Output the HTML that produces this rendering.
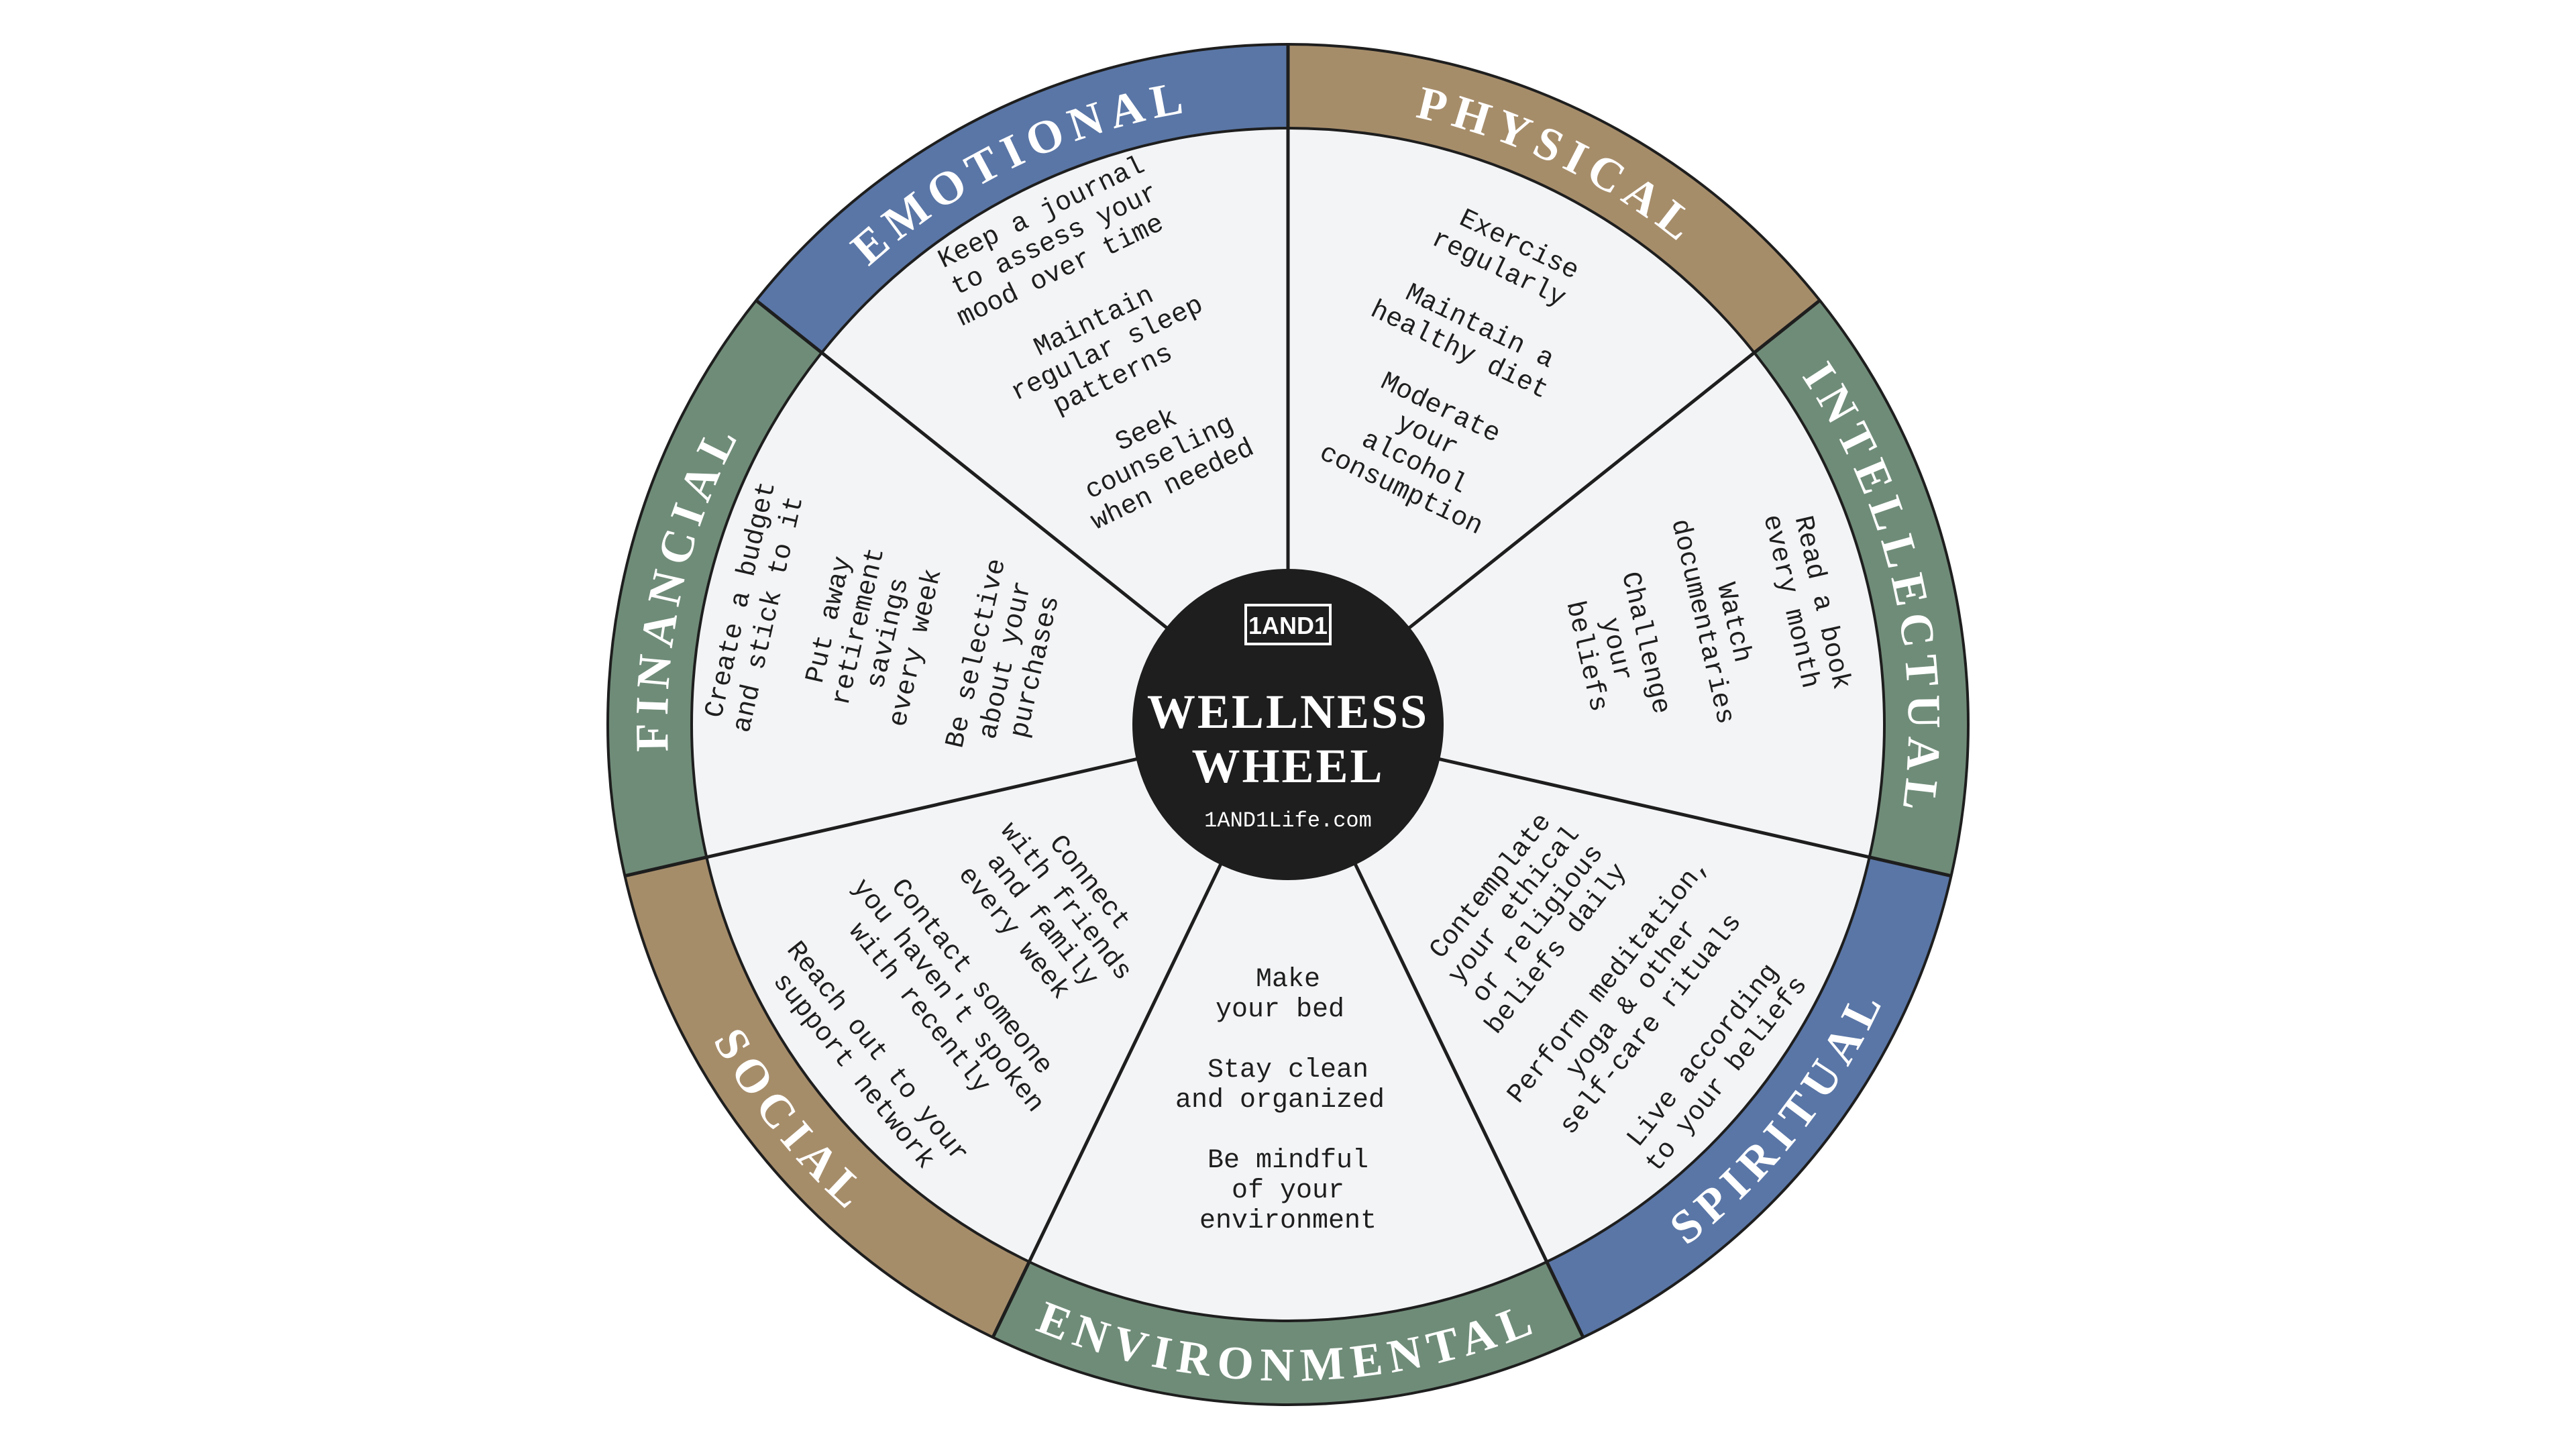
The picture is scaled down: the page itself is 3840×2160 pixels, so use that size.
<!DOCTYPE html>
<html><head><meta charset="utf-8"><style>
html,body{margin:0;padding:0;background:#fff;}
svg{display:block;}
.ring{font-family:"Liberation Serif",serif;font-weight:bold;font-size:70px;fill:#fff;letter-spacing:11px;}
.ct{font-family:"Liberation Mono",monospace;font-size:40px;fill:#1e1e1e;}
</style></head><body>
<svg width="3840" height="2160" viewBox="0 0 3840 2160" xmlns="http://www.w3.org/2000/svg">
<defs>
<path id="top" d="M1518.6,246.6 A925,925 0 0 1 2321.4,246.6"/>
<path id="bot" d="M1495.6,1961.2 A978,978 0 0 0 2344.4,1961.2"/>
</defs>
<circle cx="1920" cy="1080" r="1014" fill="#6f8c78"/>
<g stroke="none">
<path d="M1920,1080 L1480.03,166.4 A1014,1014 0 0 1 2359.97,166.4 Z" fill="#a68d6a" transform="rotate(25.714 1920 1080)"/>
<path d="M1920,1080 L1480.03,166.4 A1014,1014 0 0 1 2359.97,166.4 Z" fill="#6f8c78" transform="rotate(77.143 1920 1080)"/>
<path d="M1920,1080 L1480.03,166.4 A1014,1014 0 0 1 2359.97,166.4 Z" fill="#5a76a6" transform="rotate(128.571 1920 1080)"/>
<path d="M1920,1080 L1480.03,166.4 A1014,1014 0 0 1 2359.97,166.4 Z" fill="#6f8c78" transform="rotate(180 1920 1080)"/>
<path d="M1920,1080 L1480.03,166.4 A1014,1014 0 0 1 2359.97,166.4 Z" fill="#a68d6a" transform="rotate(231.429 1920 1080)"/>
<path d="M1920,1080 L1480.03,166.4 A1014,1014 0 0 1 2359.97,166.4 Z" fill="#6f8c78" transform="rotate(282.857 1920 1080)"/>
<path d="M1920,1080 L1480.03,166.4 A1014,1014 0 0 1 2359.97,166.4 Z" fill="#5a76a6" transform="rotate(334.286 1920 1080)"/>
</g>
<circle cx="1920" cy="1080" r="1014" fill="none" stroke="#1e1e1e" stroke-width="4"/>
<circle cx="1920" cy="1080" r="889" fill="#f3f4f6" stroke="#1e1e1e" stroke-width="4"/>
<g stroke="#1e1e1e" stroke-width="5">
<line x1="1920" y1="1080" x2="1920" y2="66" transform="rotate(0 1920 1080)"/>
<line x1="1920" y1="1080" x2="1920" y2="66" transform="rotate(51.429 1920 1080)"/>
<line x1="1920" y1="1080" x2="1920" y2="66" transform="rotate(102.857 1920 1080)"/>
<line x1="1920" y1="1080" x2="1920" y2="66" transform="rotate(154.286 1920 1080)"/>
<line x1="1920" y1="1080" x2="1920" y2="66" transform="rotate(205.714 1920 1080)"/>
<line x1="1920" y1="1080" x2="1920" y2="66" transform="rotate(257.143 1920 1080)"/>
<line x1="1920" y1="1080" x2="1920" y2="66" transform="rotate(308.571 1920 1080)"/>
</g>
<g transform="rotate(25.714 1920 1080)"><text class="ring" text-anchor="middle"><textPath href="#top" startOffset="50%">PHYSICAL</textPath></text></g>
<g transform="rotate(77.143 1920 1080)"><text class="ring" text-anchor="middle"><textPath href="#top" startOffset="50%">INTELLECTUAL</textPath></text></g>
<g transform="rotate(-51.429 1920 1080)"><text class="ring" text-anchor="middle"><textPath href="#bot" startOffset="50%">SPIRITUAL</textPath></text></g>
<g><text class="ring" text-anchor="middle"><textPath href="#bot" startOffset="50%">ENVIRONMENTAL</textPath></text></g>
<g transform="rotate(51.429 1920 1080)"><text class="ring" text-anchor="middle"><textPath href="#bot" startOffset="50%">SOCIAL</textPath></text></g>
<g transform="rotate(-77.143 1920 1080)"><text class="ring" text-anchor="middle"><textPath href="#top" startOffset="50%">FINANCIAL</textPath></text></g>
<g transform="rotate(-25.714 1920 1080)"><text class="ring" text-anchor="middle"><textPath href="#top" startOffset="50%">EMOTIONAL</textPath></text></g>
<g transform="rotate(25.714 1920 1080)"><text class="ct" text-anchor="middle" x="1920" y="485">
<tspan x="1920" dy="-188">Exercise</tspan><tspan x="1920" dy="45">regularly</tspan>
<tspan x="1920" dy="90">Maintain a</tspan><tspan x="1920" dy="45">healthy diet</tspan>
<tspan x="1920" dy="90">Moderate</tspan><tspan x="1920" dy="45">your</tspan><tspan x="1920" dy="45">alcohol</tspan><tspan x="1920" dy="45">consumption</tspan>
</text></g>
<g transform="rotate(77.143 1920 1080)"><text class="ct" text-anchor="middle" x="1920" y="440">
<tspan x="1920" dy="-166">Read a book</tspan><tspan x="1920" dy="45">every month</tspan>
<tspan x="1920" dy="90">Watch</tspan><tspan x="1920" dy="45">documentaries</tspan>
<tspan x="1920" dy="90">Challenge</tspan><tspan x="1920" dy="45">your</tspan><tspan x="1920" dy="45">beliefs</tspan>
</text></g>
<g transform="rotate(-51.429 1920 1080)"><text class="ct" text-anchor="middle" x="1920" y="1688">
<tspan x="1920" dy="-211">Contemplate</tspan><tspan x="1920" dy="45">your ethical</tspan><tspan x="1920" dy="45">or religious</tspan><tspan x="1920" dy="45">beliefs daily</tspan>
<tspan x="1920" dy="90">Perform meditation,</tspan><tspan x="1920" dy="45">yoga &amp; other</tspan><tspan x="1920" dy="45">self-care rituals</tspan>
<tspan x="1920" dy="90">Live according</tspan><tspan x="1920" dy="45">to your beliefs</tspan>
</text></g>
<g><text class="ct" text-anchor="middle" x="1920" y="1636">
<tspan x="1920" dy="-166">Make</tspan><tspan x="1920" dy="45">your bed</tspan>
<tspan x="1920" dy="90">Stay clean</tspan><tspan x="1920" dy="45">and organized</tspan>
<tspan x="1920" dy="90">Be mindful</tspan><tspan x="1920" dy="45">of your</tspan><tspan x="1920" dy="45">environment</tspan>
</text></g>
<g transform="rotate(51.429 1920 1080)"><text class="ct" text-anchor="middle" x="1920" y="1680">
<tspan x="1920" dy="-211">Connect</tspan><tspan x="1920" dy="45">with friends</tspan><tspan x="1920" dy="45">and family</tspan><tspan x="1920" dy="45">every week</tspan>
<tspan x="1920" dy="90">Contact someone</tspan><tspan x="1920" dy="45">you haven't spoken</tspan><tspan x="1920" dy="45">with recently</tspan>
<tspan x="1920" dy="90">Reach out to your</tspan><tspan x="1920" dy="45">support network</tspan>
</text></g>
<g transform="rotate(-77.143 1920 1080)"><text class="ct" text-anchor="middle" x="1920" y="465">
<tspan x="1920" dy="-211">Create a budget</tspan><tspan x="1920" dy="45">and stick to it</tspan>
<tspan x="1920" dy="90">Put away</tspan><tspan x="1920" dy="45">retirement</tspan><tspan x="1920" dy="45">savings</tspan><tspan x="1920" dy="45">every week</tspan>
<tspan x="1920" dy="90">Be selective</tspan><tspan x="1920" dy="45">about your</tspan><tspan x="1920" dy="45">purchases</tspan>
</text></g>
<g transform="rotate(-25.714 1920 1080)"><text class="ct" text-anchor="middle" x="1920" y="455">
<tspan x="1920" dy="-211">Keep a journal</tspan><tspan x="1920" dy="45">to assess your</tspan><tspan x="1920" dy="45">mood over time</tspan>
<tspan x="1920" dy="90">Maintain</tspan><tspan x="1920" dy="45">regular sleep</tspan><tspan x="1920" dy="45">patterns</tspan>
<tspan x="1920" dy="90">Seek</tspan><tspan x="1920" dy="45">counseling</tspan><tspan x="1920" dy="45">when needed</tspan>
</text></g>
<circle cx="1920" cy="1080" r="230" fill="#1e1e1e" stroke="#1e1e1e" stroke-width="4"/>
<rect x="1857" y="902" width="126" height="58" fill="none" stroke="#fff" stroke-width="4"/>
<text x="1920" y="945" text-anchor="middle" font-family="Liberation Sans, sans-serif" font-weight="bold" font-size="36" fill="#fff">1AND1</text>
<text x="1920" y="1085" text-anchor="middle" font-family="Liberation Serif, serif" font-weight="bold" font-size="72" letter-spacing="3" fill="#fff">WELLNESS</text>
<text x="1920" y="1166" text-anchor="middle" font-family="Liberation Serif, serif" font-weight="bold" font-size="72" letter-spacing="3" fill="#fff">WHEEL</text>
<text x="1920" y="1232" text-anchor="middle" font-family="Liberation Mono, monospace" font-size="32" fill="#fff">1AND1Life.com</text>
</svg>
</body></html>
